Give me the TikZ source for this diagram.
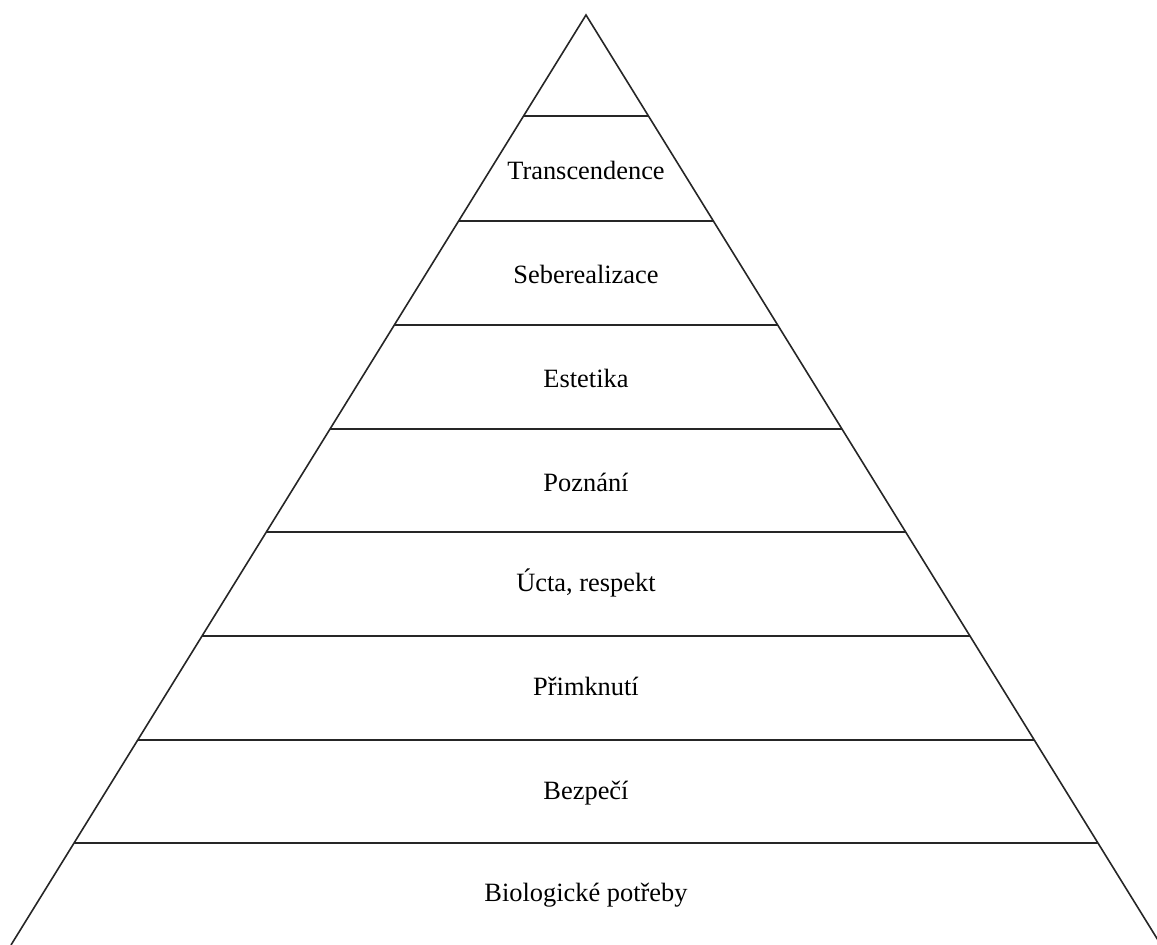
\documentclass[tikz,border=0pt]{standalone}
\usepackage{fontspec}
\setmainfont{Liberation Serif}
\usetikzlibrary{calc}
\begin{document}
\begin{tikzpicture}[x=1pt,y=1pt,
  side/.style={line width=1.6pt,black!85},
  level/.style={line width=1.8pt,black!85},
  lbl/.style={font=\fontsize{26.4}{31}\selectfont,inner sep=0pt,anchor=base}]
\useasboundingbox (0,0) rectangle (1157,945);
\coordinate (A) at (586,930);
\coordinate (BL) at (11,0);
\coordinate (BR) at (1161,0);
\draw[side] (BL) -- (A) -- (BR);
\foreach \n/\t in {1/0.1086,2/0.2215,3/0.3333,4/0.4452,5/0.5559,6/0.6677,7/0.7796,8/0.8903}{
  \coordinate (L\n) at ($(A)!\t!(BL)$);
  \coordinate (R\n) at ($(A)!\t!(BR)$);
  \draw[level] (L\n) -- (R\n);
}
\node[lbl] (t1) at (586,945-180) {Transcendence};
\node[lbl] (t2) at (586,945-284) {Seberealizace};
\node[lbl] (t3) at (586,945-388) {Estetika};
\node[lbl] (t4) at (586,945-492) {Poznání};
\node[lbl] (t5) at (586,945-592) {Úcta, respekt};
\node[lbl] (t6) at (586,945-696) {Přimknutí};
\node[lbl] (t7) at (586,945-800) {Bezpečí};
\node[lbl] (t8) at (586,945-902) {Biologické potřeby};
\end{tikzpicture}
\end{document}
